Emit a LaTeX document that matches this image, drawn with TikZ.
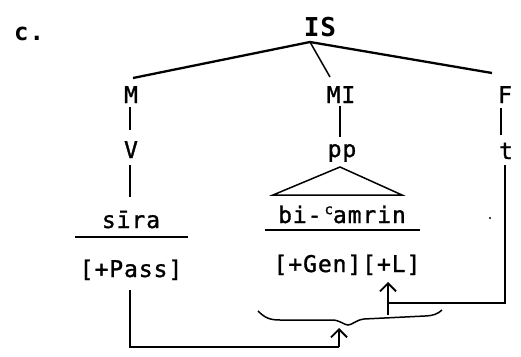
\documentclass[tikz,border=0pt]{standalone}
\usepackage{fontspec}
\setmainfont{DejaVu Sans Mono}[LetterSpace=4, FakeBold=1.3]
\newfontfamily\boldtw{DejaVu Sans Mono Bold}[LetterSpace=4]
\usetikzlibrary{arrows.meta}
\tikzset{
  lab/.style={inner sep=0pt, anchor=base, font=\fontsize{23}{27}\selectfont},
  boldlab/.style={lab, font=\fontsize{24}{28}\boldtw},
  toplab/.style={lab, font=\fontsize{26}{30}\boldtw},
  branch/.style={line width=2.3pt},
  stem/.style={line width=1.5pt},
  uparrow/.style={line width=1.6pt, -{Straight Barb[length=8pt,width=16pt,line width=1.8pt]}}
}
\newcommand{\raisedc}{\raisebox{0.7ex}{\fontsize{14}{14}\selectfont c}}
\begin{document}
\begin{tikzpicture}[x=1pt,y=-1pt]
\useasboundingbox (0,0) rectangle (521,356);
% labels
\node[boldlab, anchor=base west] (c) at (14,40) {c.};
\node[toplab] (IS) at (320,36) {IS};
\node[lab] (M) at (131,103) {M};
\node[lab] (MI) at (341,103) {MI};
\node[lab] (F) at (505,103) {F};
\node[lab] (V) at (131,158) {V};
\node[lab] (pp) at (342,157) {pp};
\node[lab] (t) at (506,159) {t};
\node[lab] (sira) at (131,228) {sīra};
\node[lab] (bicamrin) at (342,223) {bi-\hspace{3pt}\raisedc amrin};
\node[lab] (pass) at (131,277) {[+Pass]};
\node[lab] (genl) at (347,272) {[+Gen][+L]};
% named points
\coordinate (j) at (310,42);
\coordinate (Mtop) at (133,78);
\coordinate (MItop) at (330,77);
\coordinate (Ftop) at (492,73);
\coordinate (tri) at (340,167);
\coordinate (triL) at (273,195);
\coordinate (triR) at (402,195);
\coordinate (Lbot) at (388,315);
\coordinate (Ltop) at (388,282);
\coordinate (Rtop) at (505,165);
\coordinate (Rbot) at (505,303);
\coordinate (Ljoin) at (388,303);
\coordinate (Pbot) at (130,347);
\coordinate (Bbot) at (339,347);
\coordinate (Btop) at (339,328);
% tree
\draw[branch] (j) -- (Mtop);
\draw[stem] (j) -- (MItop);
\draw[branch] (j) -- (Ftop);
\draw[stem] (130,107) -- (130,130);
\draw[stem] (340,106) -- (340,137);
\draw[stem] (501,108) -- (501,135);
\draw[stem] (130,165) -- (130,197);
\draw[stem] (triL) -- (tri) -- (triR) -- cycle;
% underlines
\draw[stem] (75,237) -- (188,237);
\draw[stem] (265,230) -- (420,230);
% brace
\draw[stem] (258,311) .. controls (265,318) and (270,320) .. (280,320)
  -- (332,320) .. controls (340,320) and (344,325) .. (348,325)
  .. controls (352,325) and (356,320) .. (364,319)
  -- (425,316) .. controls (432,316) and (438,314) .. (442,310);
% arrows
\draw[uparrow] (Lbot) -- (Ltop);
\draw[stem] (Rtop) -- (Rbot) -- (Ljoin);
\draw[stem] (130,290) -- (Pbot) -- (Bbot);
\draw[uparrow] (Bbot) -- (Btop);
% speck
\fill (490,218) circle (1.1);
\end{tikzpicture}
\end{document}
